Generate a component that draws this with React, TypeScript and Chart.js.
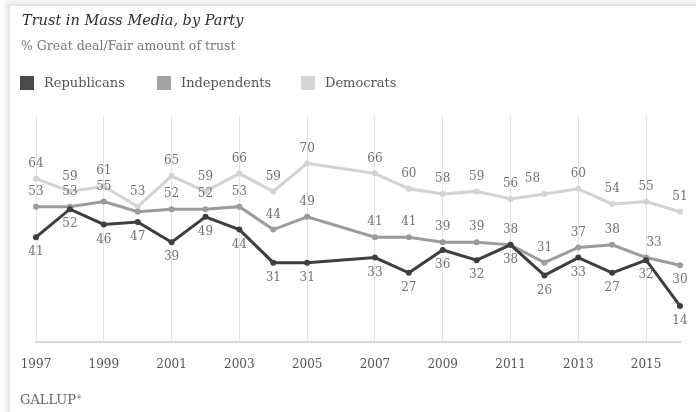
import React, { useEffect, useRef } from 'react';
import { Chart, registerables } from 'chart.js';

Chart.register(...registerables);

const years = [1997, 1998, 1999, 2000, 2001, 2002, 2003, 2004, 2005, 2007, 2008, 2009, 2010, 2011, 2012, 2013, 2014, 2015, 2016];
const republicans = [41, 52, 46, 47, 39, 49, 44, 31, 31, 33, 27, 36, 32, 38, 26, 33, 27, 32, 14];
const independents = [53, 53, 55, 51, 52, 52, 53, 44, 49, 41, 41, 39, 39, 38, 31, 37, 38, 33, 30];
const democrats = [64, 59, 61, 53, 65, 59, 66, 59, 70, 66, 60, 58, 59, 56, 58, 60, 54, 55, 51];
const tickYears = [1997, 1999, 2001, 2003, 2005, 2007, 2009, 2011, 2013, 2015];

const seriesNames = ['Republicans', 'Independents', 'Democrats'];
const seriesColors = ['#3e3e3e', '#9c9c9c', '#d3d3d3'];
const legendColors = ['#4a4a4a', '#a4a4a4', '#d6d6d6'];
const labelSide = ['below', 'above', 'above'];
// label exceptions
const labelOverrides: Array<{ s: number; year: number; side?: string; dx?: number; hide?: boolean }> = [
  { s: 1, year: 2000, hide: true },
  { s: 1, year: 2016, side: 'below', dx: 0 },
  { s: 1, year: 2015, dx: 8 },
  { s: 2, year: 2012, dx: -12 },
];

const SERIF = '"DejaVu Serif", "Liberation Serif", serif';

const valueLabels = {
  id: 'valueLabels',
  afterDatasetsDraw(chart: any) {
    const ctx = chart.ctx;
    ctx.save();
    ctx.font = `12px ${SERIF}`;
    ctx.fillStyle = '#737373';
    ctx.textAlign = 'center';
    ctx.textBaseline = 'middle';
    chart.data.datasets.forEach((ds: any, di: number) => {
      const meta = chart.getDatasetMeta(di);
      meta.data.forEach((pt: any, i: number) => {
        const year = years[i];
        const ov = labelOverrides.find((o) => o.s === di && o.year === year);
        if (ov && ov.hide) return;
        const side = (ov && ov.side) || labelSide[di];
        const dx = (ov && ov.dx) || 0;
        const y = side === 'above' ? pt.y - 15 : pt.y + 15;
        ctx.fillText(String(ds.data[i].y), pt.x + dx, y);
      });
    });
    ctx.restore();
  },
};

export default function App() {
  const ref = useRef<HTMLCanvasElement | null>(null);

  useEffect(() => {
    document.body.style.margin = '0';
    const seriesData = [republicans, independents, democrats];
    const chart = new Chart(ref.current as HTMLCanvasElement, {
      type: 'line',
      data: {
        datasets: seriesData.map((vals, si) => ({
          label: seriesNames[si],
          data: vals.map((v, i) => ({ x: years[i], y: v })),
          borderColor: seriesColors[si],
          backgroundColor: seriesColors[si],
          pointBackgroundColor: seriesColors[si],
          pointBorderColor: seriesColors[si],
          borderWidth: 3,
          pointRadius: 3,
          pointBorderWidth: 0,
          tension: 0,
          clip: false as any,
        })),
      },
      options: {
        animation: false,
        responsive: false,
        devicePixelRatio: 1,
        layout: { padding: { left: 36, right: 16, top: 115, bottom: 24 } },
        plugins: { legend: { display: false }, tooltip: { enabled: false }, title: { display: false } },
        scales: {
          x: {
            type: 'linear',
            min: 1997,
            max: 2016,
            afterBuildTicks: (scale: any) => {
              scale.ticks = tickYears.map((v) => ({ value: v }));
            },
            ticks: {
              autoSkip: false,
              maxRotation: 0,
              padding: 16,
              color: '#555',
              font: { family: SERIF, size: 12 },
              callback: (v: any) => String(v),
            },
            grid: { color: '#e4e4e4', lineWidth: 1, drawTicks: false },
            border: { display: true, color: '#dadada', width: 2 },
          },
          y: { display: false, min: 0, max: 89 },
        },
      },
      plugins: [valueLabels],
    });
    return () => chart.destroy();
  }, []);

  return (
    <div style={{ position: 'relative', width: 696, height: 412, background: '#fff', overflow: 'hidden' }}>
      <div
        style={{
          position: 'absolute', left: 9, top: 5, right: -20, bottom: -20,
          borderLeft: '1px solid #e2e2e2', borderTop: '1px solid #e2e2e2',
          boxShadow: '-3px -3px 5px rgba(0,0,0,0.10)',
        }}
      />
      <canvas ref={ref} width={696} height={412} style={{ position: 'absolute', left: 0, top: 0, width: 696, height: 412 }} />
      <div style={{ position: 'absolute', left: 22, top: 12, fontFamily: SERIF, fontStyle: 'italic', fontSize: 14.5, color: '#2e2e2e', whiteSpace: 'nowrap' }}>
        Trust in Mass Media, by Party
      </div>
      <div style={{ position: 'absolute', left: 21, top: 38, fontFamily: SERIF, fontSize: 12.5, color: '#777', whiteSpace: 'nowrap' }}>
        % Great deal/Fair amount of trust
      </div>
      {seriesNames.map((n, i) => (
        <div key={n} style={{ position: 'absolute', left: [20, 157, 301][i], top: 75, display: 'flex', alignItems: 'center', fontFamily: SERIF, fontSize: 13, color: '#555', whiteSpace: 'nowrap' }}>
          <span style={{ display: 'inline-block', width: 14, height: 14, background: legendColors[i], marginRight: 10 }} />
          {n}
        </div>
      ))}
      <div style={{ position: 'absolute', left: 20, top: 392, fontFamily: SERIF, fontSize: 13, color: '#666', whiteSpace: 'nowrap' }}>
        GALLUP<sup style={{ fontSize: 6 }}>®</sup>
      </div>
    </div>
  );
}
